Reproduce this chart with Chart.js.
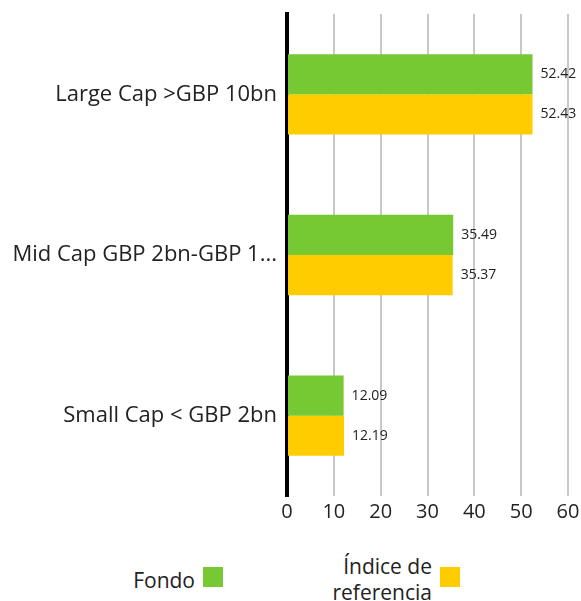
<!DOCTYPE html>
<html>
<head>
<meta charset="utf-8">
<script src="https://cdn.jsdelivr.net/npm/chart.js@4/dist/chart.umd.min.js"></script>
<style>
  html, body { margin: 0; padding: 0; background: #fff; }
  body { width: 581px; height: 601px; position: relative; overflow: hidden; font-family: "Open Sans", sans-serif; color: #222; }
  #wrap { position: absolute; left: 0; top: 0; width: 581px; height: 530px; }
  .legend-item { position: absolute; display: flex; align-items: flex-start; font-size: 21px; line-height: 26px; }
  .legend-item span.txt { text-align: right; }
  .legend-item span.box { display: inline-block; width: 20px; height: 20px; margin-left: 8px; }
</style>
</head>
<body>
<div id="wrap"><canvas id="chart"></canvas></div>
<div class="legend-item" id="leg0" style="right: 358px; top: 567px;"></div>
<div class="legend-item" id="leg1" style="right: 121px; top: 553px;"></div>
<script>
// datos del gráfico
const categorias = ['Large Cap >GBP 10bn', 'Mid Cap GBP 2bn-GBP 10bn', 'Small Cap < GBP 2bn'];
const fondo = [52.42, 35.49, 12.09];
const indice = [52.43, 35.37, 12.19];
const nombresSeries = ['Fondo', 'Índice de referencia'];
const coloresSeries = ['#76c933', '#ffcc00'];
const ticksX = [0, 10, 20, 30, 40, 50, 60];

// etiquetas de valor al final de cada barra
const valueLabels = {
    id: 'valueLabels',
    afterDatasetsDraw(chart) {
        const ctx = chart.ctx;
        ctx.save();
        ctx.font = '14px "Open Sans", sans-serif';
        ctx.fillStyle = '#222';
        ctx.textBaseline = 'middle';
        ctx.textAlign = 'left';
        chart.data.datasets.forEach((ds, i) => {
            chart.getDatasetMeta(i).data.forEach((bar, j) => {
                ctx.fillText(ds.data[j].toFixed(2), bar.x + 8, bar.y);
            });
        });
        ctx.restore();
    }
};

const ctx = document.getElementById('chart').getContext('2d');
new Chart(ctx, {
    type: 'bar',
    data: {
        labels: categorias,
        datasets: [
            { label: nombresSeries[0], data: fondo, backgroundColor: coloresSeries[0] },
            { label: nombresSeries[1], data: indice, backgroundColor: coloresSeries[1] }
        ]
    },
    options: {
        indexAxis: 'y',
        responsive: true,
        maintainAspectRatio: false,
        animation: false,
        layout: { padding: { top: 14, right: 13, bottom: 0, left: 0 } },
        datasets: { bar: { categoryPercentage: 0.5, barPercentage: 1.0 } },
        plugins: {
            legend: { display: false },
            tooltip: { enabled: false }
        },
        scales: {
            x: {
                min: 0,
                max: 60,
                afterBuildTicks: (scale) => { scale.ticks = ticksX.map(v => ({ value: v })); },
                grid: { color: '#c8c8c8', lineWidth: 2, drawTicks: false },
                border: { display: false },
                ticks: { color: '#222', padding: 4, font: { size: 20, family: '"Open Sans", sans-serif' } },
                afterFit: (scale) => {
                    scale.height = 34;
                    scale.paddingLeft = 0;
                    scale.paddingRight = 0;
                }
            },
            y: {
                grid: { display: false, drawTicks: false },
                border: { display: true, color: '#000', width: 4 },
                ticks: {
                    color: '#222',
                    padding: 10,
                    font: { size: 22, family: '"Open Sans", sans-serif' },
                    callback: function(value) {
                        const t = this.getLabelForValue(value);
                        return t.length > 21 ? t.substring(0, 21) + '...' : t;
                    }
                },
                afterFit: (scale) => {
                    scale.width = 287;
                    scale.paddingTop = 0;
                    scale.paddingBottom = 0;
                }
            }
        }
    },
    plugins: [valueLabels]
});

// leyenda: texto a la izquierda del cuadro
document.getElementById('leg0').innerHTML =
    '<span class="txt">' + nombresSeries[0] + '</span><span class="box" style="background:' + coloresSeries[0] + '"></span>';
document.getElementById('leg1').innerHTML =
    '<span class="txt">Índice de<br>referencia</span><span class="box" style="background:' + coloresSeries[1] + ';margin-top:14px"></span>';
</script>
</body>
</html>
